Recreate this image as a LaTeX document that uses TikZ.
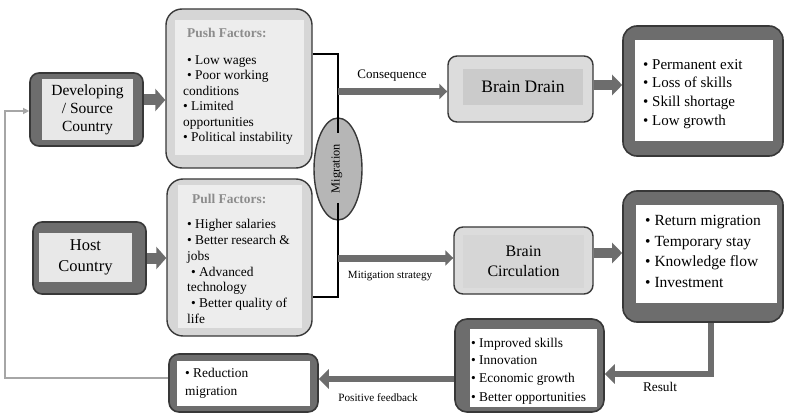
\documentclass[tikz,border=0pt]{standalone}
\usepackage{fontspec}
\setmainfont{Liberation Serif}
\usetikzlibrary{arrows.meta,shapes.geometric,calc}
\definecolor{dk}{HTML}{6D6D6D}
\definecolor{bd}{HTML}{383838}
\definecolor{ltA}{HTML}{D6D6D6}
\definecolor{ltB}{HTML}{EDEDED}
\definecolor{ltC}{HTML}{E8E8E8}
\definecolor{bdin}{HTML}{CBCBCB}
\definecolor{ttl}{HTML}{8C8C8C}
\definecolor{fbg}{HTML}{A6A6A6}
\begin{document}
\begin{tikzpicture}[x=1pt,y=-1pt,
  darkbox/.style={draw=bd, line width=1.6pt, fill=dk, rounded corners=#1, inner sep=0},
  darkbox/.default=14pt,
  litebox/.style={draw=bd, line width=1.4pt, fill=ltA, rounded corners=#1, inner sep=0},
  litebox/.default=14pt,
  inbox/.style={draw=none, fill=#1, inner sep=0, align=center},
  txt/.style={anchor=north west, inner sep=0, align=left, font=\fontsize{13.4}{15.5}\selectfont},
  lbl/.style={inner sep=0},
  fatA/.style={draw=dk, line width=11pt, -{Triangle[length=10pt,width=22pt]}},
  midA/.style={draw=dk, line width=10pt, -{Triangle[length=10pt,width=20pt]}},
  thinA/.style={draw=dk, line width=7pt, -{Triangle[length=8pt,width=15pt]}},
  resA/.style={draw=dk, line width=6pt, -{Triangle[length=10pt,width=19pt]}},
  brk/.style={draw=black, line width=1.4pt},
  fbline/.style={draw=fbg, line width=1.2pt, -{Triangle[length=6pt,width=6pt]}}
]
\useasboundingbox[fill=white] (0,0) rectangle (787,414);

% Developing / Source Country
\node[darkbox=9pt, minimum width=113pt, minimum height=73pt] (devo) at (86.5,109.5) {};
\node[inbox=ltC, minimum width=91pt, minimum height=61pt, font=\fontsize{15.5}{18}\selectfont] (dev) at (87.5,110) {Developing\\/ Source\\Country};

% Host Country
\node[darkbox=9pt, minimum width=113pt, minimum height=72pt] (hosto) at (89.5,258) {};
\node[inbox=ltC, minimum width=93pt, minimum height=49pt, font=\fontsize{16.5}{21}\selectfont] (host) at (85.5,257.5) {Host\\Country};

% Push factors
\node[litebox=16pt, minimum width=146pt, minimum height=159pt] (pusho) at (239,88.5) {};
\node[inbox=ltB, minimum width=129pt, minimum height=135pt] (pushi) at (239.5,87.5) {};
\node[anchor=west, inner sep=0, text=ttl, font=\bfseries\fontsize{13.4}{15.5}\selectfont] (pusht) at (187,33) {Push Factors:};
\node[txt] (pushl) at (183,55.5) {\hspace{4pt}• Low wages\\\hspace{4pt}• Poor working\\conditions\\• Limited\\opportunities\\• Political instability};

% Pull factors
\node[litebox=16pt, minimum width=145pt, minimum height=157pt] (pullo) at (239.5,257.5) {};
\node[inbox=ltB, minimum width=124pt, minimum height=143pt] (pulli) at (240,256.5) {};
\node[anchor=west, inner sep=0, text=ttl, font=\bfseries\fontsize{13.4}{15.5}\selectfont] (pullt) at (192,199) {Pull Factors:};
\node[txt, font=\fontsize{13.4}{15.7}\selectfont] (pulll) at (187,219.5) {• Higher salaries\\• Better research \&\\jobs\\\hspace{4pt}• Advanced\\technology\\\hspace{4pt}• Better quality of\\life};

% Migration ellipse
\node[ellipse, draw=bd, line width=1.4pt, fill=ltA!85!black, minimum width=48pt, minimum height=102pt, inner sep=0] (mig) at (338,169) {};
\node[rotate=90, inner sep=0, font=\fontsize{12.3}{14}\selectfont] (migt) at (337,168.5) {Migration};

% Brain Drain
\node[litebox=9pt, fill=ltC!95!black, minimum width=145pt, minimum height=66pt] (bdo) at (520.5,89) {};
\node[inbox=bdin, minimum width=120pt, minimum height=36pt, font=\fontsize{17.5}{20}\selectfont] (bd) at (523,87) {Brain Drain};

% Brain Circulation
\node[litebox=9pt, fill=ltC!95!black, minimum width=139pt, minimum height=67pt] (bco) at (523.5,260.5) {};
\node[inbox=ltA, minimum width=121pt, minimum height=53pt, font=\fontsize{16}{20}\selectfont] (bc) at (523.5,261.5) {Brain\\Circulation};

% Right top box
\node[darkbox=14pt, minimum width=160pt, minimum height=130pt] (rtopo) at (703,91) {};
\node[inbox=white, minimum width=138pt, minimum height=101pt] (rtopi) at (704,90.5) {};
\node[txt, font=\fontsize{15}{18.7}\selectfont] (rtopl) at (643,59) {• Permanent exit\\• Loss of skills\\• Skill shortage\\• Low growth};

% Right middle box
\node[darkbox=14pt, minimum width=160pt, minimum height=131pt] (rmido) at (703,256.5) {};
\node[inbox=white, minimum width=141pt, minimum height=98pt] (rmidi) at (706.5,254) {};
\node[txt, font=\fontsize{15.5}{20.7}\selectfont] (rmidl) at (645,215) {• Return migration\\• Temporary stay\\• Knowledge flow\\• Investment};

% Improved box
\node[darkbox=12pt, minimum width=149pt, minimum height=93pt] (impo) at (529.5,365.5) {};
\node[inbox=white, minimum width=127pt, minimum height=78pt] (impi) at (533.5,368) {};
\node[txt, font=\fontsize{13.4}{18}\selectfont] (impl) at (471,337.5) {• Improved skills\\• Innovation\\• Economic growth\\• Better opportunities};

% Reduction box
\node[darkbox=10pt, minimum width=149pt, minimum height=58pt] (redo) at (243.5,383) {};
\node[inbox=white, minimum width=133pt, minimum height=45pt] (redi) at (243.5,383.5) {};
\node[txt, font=\fontsize{13.4}{18}\selectfont] (redl) at (185,368.5) {• Reduction\\migration};

% Connectors
\draw[fatA] (devo.east |- 0,100) -- (pusho.west |- 0,100);
\draw[fatA] (hosto.east |- 0,258) -- (pullo.west |- 0,258);
\draw[brk] (pusho.east |- 0,54) -| (mig.center |- 0,133);
\draw[brk] (mig.center |- 0,203) |- (pullo.east |- 0,297);
\draw[thinA] (mig.center |- 0,91.5) -- (bdo.west |- 0,91.5);
\draw[thinA] (mig.center |- 0,258) -- (bco.west |- 0,258);
\draw[midA] (bdo.east |- 0,85) -- (rtopo.west |- 0,85);
\draw[midA] (bco.east |- 0,253) -- (rmido.west |- 0,253);
\draw[resA] (rmido.south -| 711,0) |- (impo.east |- 0,374);
\draw[resA] (impo.west |- 0,379) -- (redo.east |- 0,379);
\coordinate (fbc) at (5,111);
\draw[fbline] (redo.west |- 0,378) -| (fbc) -- (devo.west |- 0,111);

% Labels
\node[lbl, font=\fontsize{13}{15}\selectfont] (lcons) at (392,76) {Consequence};
\node[lbl, font=\fontsize{11}{13}\selectfont] (lmit) at (390,276) {Mitigation strategy};
\node[lbl, font=\fontsize{13.3}{15}\selectfont] (lres) at (660,387) {Result};
\node[lbl, font=\fontsize{11.2}{13}\selectfont] (lpos) at (378,398) {Positive feedback};
\end{tikzpicture}
\end{document}
